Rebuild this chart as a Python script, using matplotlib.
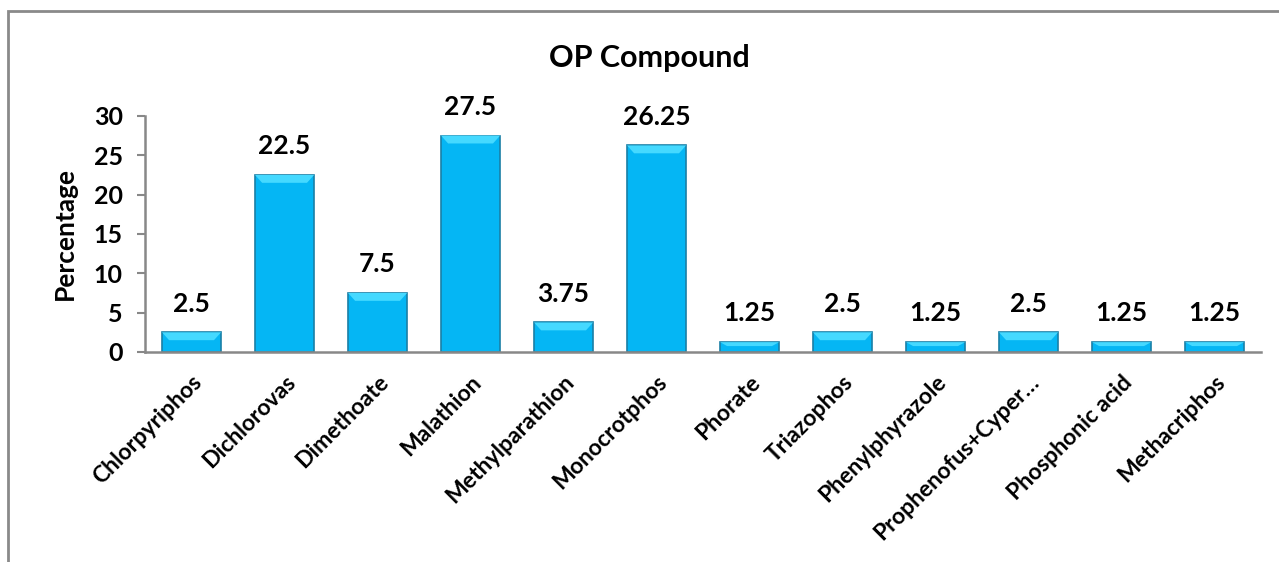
import matplotlib
matplotlib.use("Agg")
from matplotlib import pyplot as plt
from matplotlib.patches import Rectangle, Polygon

compounds = ["Chlorpyriphos", "Dichlorovas", "Dimethoate", "Malathion", "Methylparathion",
             "Monocrotphos", "Phorate", "Triazophos", "Phenylphyrazole",
             "Prophenofus+Cyper\u2026", "Phosphonic acid", "Methacriphos"]
percentage = [2.5, 22.5, 7.5, 27.5, 3.75, 26.25, 1.25, 2.5, 1.25, 2.5, 1.25, 1.25]
yticks = [0, 5, 10, 15, 20, 25, 30]

plt.rcParams['font.family'] = ['Lato', 'DejaVu Sans']
plt.rcParams['font.weight'] = 'bold'

fig = plt.figure(figsize=(12.79, 5.62), dpi=100)
ax = fig.add_axes([0.1134, 0.3737, 0.8726, 0.42])

x = range(len(compounds))
bars = ax.bar(x, percentage, width=0.635, color='#05B6F4', edgecolor='#1A7FA6', linewidth=1.2, zorder=2)

# bevel on top of each bar
for b in bars:
    h = b.get_height()
    x0, w = b.get_x(), b.get_width()
    bh = min(1.0, h * 0.4)
    inset = w * 0.12
    ax.add_patch(Polygon([(x0, h), (x0 + w, h), (x0 + w - inset, h - bh), (x0 + inset, h - bh)],
                         closed=True, facecolor='#45D9FF', edgecolor='none', zorder=3))

for xi, v in zip(x, percentage):
    ax.annotate(f"{v:g}", (xi, v), xytext=(0, 12), textcoords='offset points',
                ha='center', va='bottom', fontsize=19, fontweight='bold')

ax.set_xlim(-0.5, len(compounds) - 0.5)
ax.set_ylim(0, 30)
ax.set_yticks(yticks)
ax.set_xticks(list(x))
ax.set_xticklabels(compounds, rotation=45, ha='right', rotation_mode='anchor', fontsize=16.5, fontweight='bold')
ax.tick_params(axis='y', labelsize=18, length=6, width=1.5, color='#888888', pad=10)
ax.tick_params(axis='x', length=0, pad=14)
for s in ['top', 'right']:
    ax.spines[s].set_visible(False)
for s in ['left', 'bottom']:
    ax.spines[s].set_color('#888888')
    ax.spines[s].set_linewidth(1.8)
ax.spines['bottom'].set_zorder(4)

ax.set_ylabel('Percentage', fontsize=19, fontweight='bold', labelpad=12)
fig.text(0.508, 0.897, 'OP Compound', ha='center', va='center', fontsize=22, fontweight='bold')

fig.patches.append(Rectangle((8 / 1279, -0.1), 1.2, 1 - 11 / 562 + 0.1, transform=fig.transFigure,
                             fill=False, edgecolor='#8a8a8a', linewidth=2))

plt.savefig('out.png', dpi=100)
